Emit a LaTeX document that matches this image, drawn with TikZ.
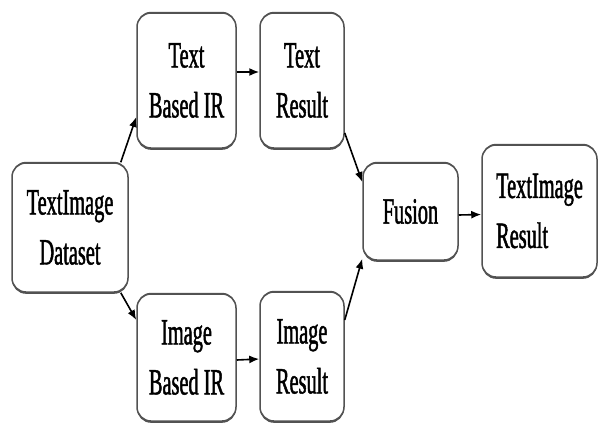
\documentclass[tikz,border=0pt]{standalone}
\usepackage{fontspec}
\setmainfont{Liberation Serif}[FakeStretch=0.55,FakeBold=1.2]
\usetikzlibrary{arrows.meta,shadows}
\begin{document}
\begin{tikzpicture}[x=1pt,y=-1pt,
  box/.style={draw=black!68, line width=1.5pt, rounded corners=14pt, fill=white,
    drop shadow={shadow xshift=0pt, shadow yshift=-1.8pt, fill=black!68, opacity=1},
    drop shadow={shadow xshift=0pt, shadow yshift=1.2pt, fill=black!68, opacity=1},
    align=center, inner sep=0pt, font=\fontsize{37}{50}\selectfont},
  arr/.style={line width=1.6pt, -{Latex[length=10pt,width=8pt]}}]
\useasboundingbox (0,0) rectangle (598,424);
\fill[white] (0,0) rectangle (598,424);
\node[box, minimum width=116pt, minimum height=129pt] (ds)  at (70,227.5) {TextImage\\Dataset};
\node[box, minimum width=99pt,  minimum height=135pt] (tir) at (186.5,80.5) {Text\\Based IR};
\node[box, minimum width=84pt,  minimum height=135pt] (tr)  at (302,80.5) {Text\\Result};
\node[box, minimum width=99pt,  minimum height=127pt] (iir) at (186.5,357.5) {Image\\Based IR};
\node[box, minimum width=84pt,  minimum height=129pt] (ir)  at (302,356.5) {Image\\Result};
\node[box, minimum width=95pt,  minimum height=97pt]  (fu)  at (410.5,211.5) {Fusion};
\node[box, align=left, minimum width=115pt, minimum height=132pt] (res) at (539.5,211) {TextImage\\Result};
\draw[arr] ([xshift=-8pt]ds.north east) -- ([yshift=-36.5pt]tir.west);
\draw[arr] ([yshift=8.5pt]tir.east) -- ([yshift=8.5pt]tr.west);
\draw[arr] ([yshift=-52.5pt]tr.east) -- ([yshift=29.5pt]fu.west);
\draw[arr] ([xshift=-8pt]ds.south east) -- ([yshift=37.5pt]iir.west);
\draw[arr] ([yshift=-2.5pt]iir.east) -- ([yshift=-2.5pt]ir.west);
\draw[arr] ([yshift=36.5pt]ir.east) -- ([yshift=2pt]fu.south west);
\draw[arr] ([yshift=-3.5pt]fu.east) -- ([yshift=-3.5pt]res.west);
\end{tikzpicture}
\end{document}
